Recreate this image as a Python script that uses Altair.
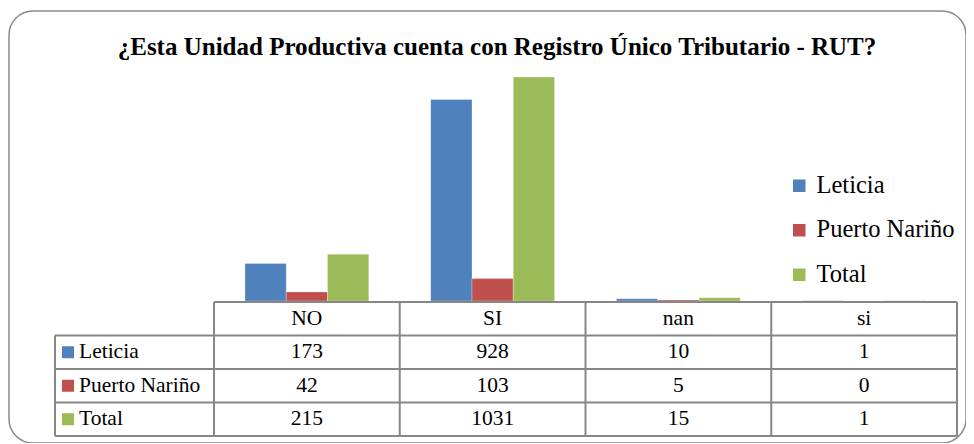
import altair as alt
import pandas as pd

# ---------------- data ----------------
categories = ["NO", "SI", "nan", "si"]
series = ["Leticia", "Puerto Nariño", "Total"]
leticia = [173, 928, 10, 1]
puerto_narino = [42, 103, 5, 0]
total = [215, 1031, 15, 1]
colors = ["#4F81BD", "#C0504D", "#9BBB59"]
title_text = "¿Esta Unidad Productiva cuenta con Registro Único Tributario - RUT?"
header_key = "header"

rows = []
for s, vals in zip(series, [leticia, puerto_narino, total]):
    for c, v in zip(categories, vals):
        rows.append({"cat": c, "serie": s, "value": v})
df = pd.DataFrame(rows)

tbl_rows = [{"cat": c, "row": header_key, "label": c} for c in categories]
tbl_rows += [{"cat": r["cat"], "row": r["serie"], "label": str(r["value"])} for r in rows]
df_tbl = pd.DataFrame(tbl_rows)
df_series = pd.DataFrame({"serie": series})
df_cats = pd.DataFrame({"cat": categories})
df_rowkeys = pd.DataFrame({"row": [header_key] + series})
df_title = pd.DataFrame({"t": [title_text]})

# ---------------- layout ----------------
W, H = 957, 432
FONT = "Liberation Serif"
LINE = "#878787"
X0, X1 = 205, 948          # plot / table data columns
XL = 46                    # left edge of table label column
YB, YT = 290, 29.3         # baseline and top of value scale
TR0, TR1 = 291, 425        # table rows range

xscale = alt.Scale(domain=categories, range=[X0, X1], paddingInner=0, paddingOuter=0)
yscale = alt.Scale(domain=[0, 1200], range=[YB, YT])
rscale = alt.Scale(domain=[header_key] + series, range=[TR0, TR1], paddingInner=0, paddingOuter=0)
cscale = alt.Scale(domain=series, range=colors)

bars = alt.Chart(df).mark_bar(stroke="#ffffff", strokeOpacity=0.35, strokeWidth=0.8).encode(
    x=alt.X("cat:N", scale=xscale, axis=None, sort=categories),
    xOffset=alt.XOffset("serie:N", sort=series,
                        scale=alt.Scale(domain=series, paddingInner=0, paddingOuter=0.75)),
    y=alt.Y("value:Q", scale=yscale, axis=None),
    color=alt.Color("serie:N", scale=cscale, sort=series,
                    legend=alt.Legend(orient="none", legendX=778, legendY=162.5, title=None,
                                      symbolType="square", symbolSize=156, symbolStrokeWidth=0,
                                      labelFont=FONT, labelFontSize=24.5, labelColor="#000000",
                                      rowPadding=19.5, labelOffset=5)),
)

title = alt.Chart(df_title).mark_text(font=FONT, fontSize=25, fontWeight="bold", color="#000000",
                                      align="center", baseline="middle").encode(
    text="t:N", x=alt.value(488), y=alt.value(36))

cell_text = alt.Chart(df_tbl).mark_text(font=FONT, fontSize=21.5, color="#000000",
                                        baseline="middle").encode(
    x=alt.X("cat:N", scale=xscale, axis=None, sort=categories),
    y=alt.Y("row:N", scale=rscale, axis=None),
    text="label:N")

row_labels = alt.Chart(df_series).mark_text(font=FONT, fontSize=21.5, color="#000000",
                                            align="left", baseline="middle").encode(
    x=alt.value(70),
    y=alt.Y("serie:N", scale=rscale, axis=None),
    text="serie:N")

row_swatches = alt.Chart(df_series).mark_point(shape="square", filled=True, size=144, opacity=1).encode(
    x=alt.value(59),
    y=alt.Y("serie:N", scale=rscale, axis=None),
    color=alt.Color("serie:N", scale=cscale, legend=None))

vlines = alt.Chart(df_cats).mark_rule(color=LINE, strokeWidth=2).encode(
    x=alt.X("cat:N", scale=xscale, axis=None, sort=categories, bandPosition=0),
    y=alt.value(TR0), y2=alt.value(TR1))

vline_end = alt.Chart(df_cats).transform_filter(alt.datum.cat == categories[-1]).mark_rule(
    color=LINE, strokeWidth=2).encode(
    x=alt.X("cat:N", scale=xscale, axis=None, sort=categories, bandPosition=1),
    y=alt.value(TR0), y2=alt.value(TR1))

vline_left = alt.Chart(df_series).transform_filter(alt.datum.serie == series[0]).mark_rule(
    color=LINE, strokeWidth=2).encode(
    x=alt.value(XL),
    y=alt.Y("serie:N", scale=rscale, axis=None, bandPosition=0),
    y2=alt.value(TR1))

hline_header = alt.Chart(df_rowkeys).transform_filter(alt.datum.row == header_key).mark_rule(
    color=LINE, strokeWidth=2).encode(
    y=alt.Y("row:N", scale=rscale, axis=None, bandPosition=0),
    x=alt.value(X0), x2=alt.value(X1))

hlines = alt.Chart(df_series).mark_rule(color=LINE, strokeWidth=2).encode(
    y=alt.Y("serie:N", scale=rscale, axis=None, bandPosition=0),
    x=alt.value(XL), x2=alt.value(X1))

hline_bottom = alt.Chart(df_series).transform_filter(alt.datum.serie == series[-1]).mark_rule(
    color=LINE, strokeWidth=2).encode(
    y=alt.Y("serie:N", scale=rscale, axis=None, bandPosition=1),
    x=alt.value(XL), x2=alt.value(X1))

table_layer = alt.layer(cell_text, row_labels, row_swatches, vlines, vline_end, vline_left,
                        hline_header, hlines, hline_bottom)

chart = alt.layer(bars, title, table_layer).resolve_scale(y="independent").properties(
    width=W, height=H,
    padding={"left": 1, "top": 3, "right": 0, "bottom": 0},
    autosize=alt.AutoSizeParams(type="none"),
    background="#ffffff",
).configure_view(
    stroke="#8a8a8a", strokeWidth=1.5, cornerRadius=24, fill="#ffffff"
)

chart.save("out.html", embed_options={"renderer": "svg", "actions": False})
